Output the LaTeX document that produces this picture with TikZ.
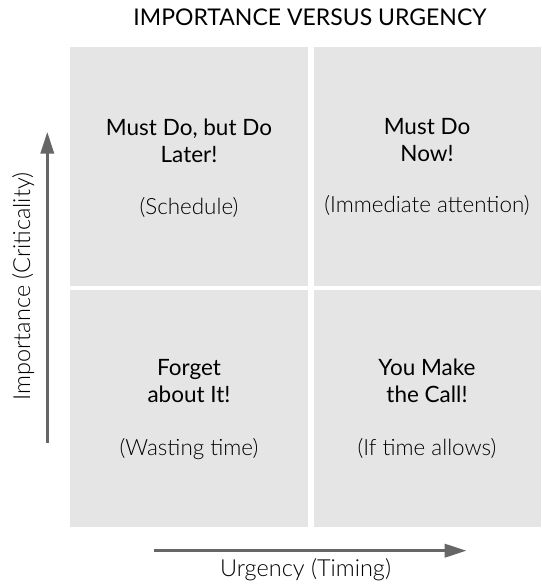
\documentclass[tikz,border=0pt]{standalone}
\usepackage{fontspec}
\setmainfont{Lato}
\newfontfamily\lightfont{Lato Light}
\usetikzlibrary{arrows.meta}
\usetikzlibrary{positioning}
\definecolor{boxgray}{HTML}{E5E5E5}
\definecolor{arrowgray}{HTML}{666666}

\begin{document}
\begin{tikzpicture}[x=1pt,y=-1pt,
    quad/.style={fill=boxgray,draw=none,inner sep=0pt},
    head/.style={font=\fontsize{22.5}{27}\selectfont,align=center,anchor=base,inner sep=0pt},
    sub/.style={font=\lightfont\fontsize{22.4}{26}\selectfont,anchor=base,inner sep=0pt},
    axislabel/.style={font=\lightfont\fontsize{23.5}{27}\selectfont,anchor=base,inner sep=0pt},
    axis/.style={draw=arrowgray,line width=3.5pt,-{Triangle[length=22pt,width=13pt]}}]
    \useasboundingbox (0,0) rectangle (541,585);
    % title
    \node[font=\fontsize{23}{27}\selectfont,anchor=base,inner sep=0pt] (title) at (310,26) {IMPORTANCE VERSUS URGENCY};
    % the four quadrants
    \fill[boxgray] (70,47) rectangle (308,285.5);
    \fill[boxgray] (313.5,47) rectangle (541,285.5);
    \fill[boxgray] (70,290) rectangle (308,527);
    \fill[boxgray] (313.5,290) rectangle (541,527);
    % anchor=base sits on the last line
    \node[head] (later) at (189,162.5) {Must Do, but Do\\Later!};
    \node[sub] (schedule) at (189,214) {(Schedule)};
    \node[head] (now) at (427,162) {Must Do\\Now!};
    \node[sub] (attention) at (427,212) {(Immediate attention)};
    \node[head] (forget) at (189,402) {Forget\\about It!};
    \node[sub] (wasting) at (189,455) {(Wasting time)};
    \node[head] (call) at (427,402) {You Make\\the Call!};
    \node[sub] (allows) at (427,455) {(If time allows)};
    % axes
    \coordinate (ylow) at (47.3,443);
    \coordinate (yhigh) at (47.3,131.7);
    \coordinate (xlow) at (154,550.7);
    \coordinate (xhigh) at (466.7,550.7);
    \draw[axis] (ylow) -- (yhigh);
    \draw[axis] (xlow) -- (xhigh);
    \node[axislabel,rotate=90] (importance) at (30,286.5) {Importance (Criticality)};
    \node[axislabel] (urgency) at (305.5,576.7) {Urgency (Timing)};
\end{tikzpicture}
\end{document}
